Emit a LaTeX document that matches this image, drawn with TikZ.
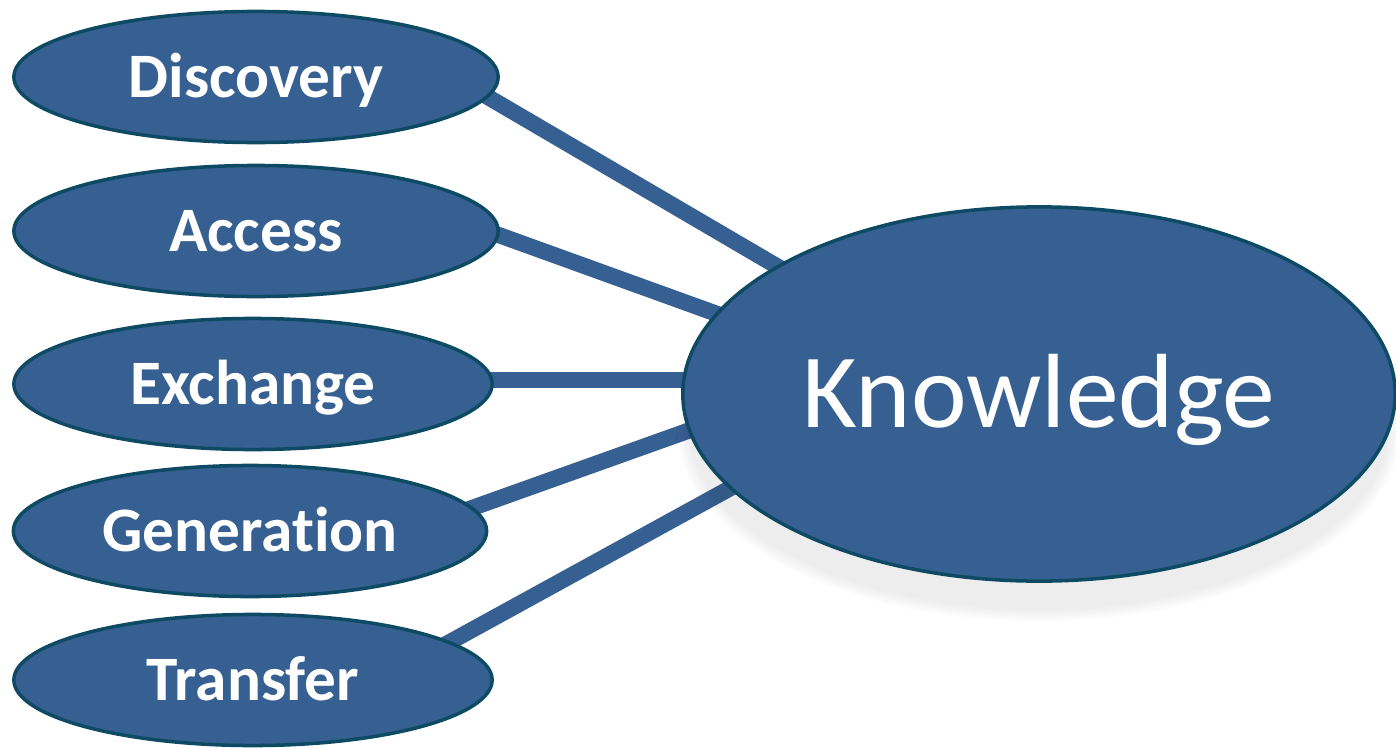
\documentclass[tikz,border=0pt]{standalone}
\usepackage{fontspec}
\setmainfont{Carlito}[Ligatures=NoCommon]
\usetikzlibrary{shapes.geometric,backgrounds,shadows.blur}
\definecolor{topicblue}{RGB}{55,96,146}
\definecolor{topicedge}{RGB}{14,74,100}
\tikzset{
  topic/.style={ellipse,draw=topicedge,fill=topicblue,line width=1pt,inner sep=0pt,
    text=white,font=\fontsize{18}{20}\selectfont\bfseries,
    text height=16pt,text depth=4.4pt,minimum width=4.84cm,minimum height=1.31cm},
  link/.style={topicblue,line width=4.6pt,shorten <=-8pt,shorten >=-8pt}
}
\begin{document}
\begin{tikzpicture}[x=0.01cm,y=-0.01cm]
	\useasboundingbox (0,0) rectangle (1396,748);
	\node[topic] (disc) at (256,77) {Discovery};
	\node[topic] (acc) at (256,231) {Access};
	\node[topic,minimum width=4.78cm] (exch) at (253,384) {Exchange};
	\node[topic,minimum width=4.73cm] (gen) at (250,531) {Generation};
	\node[topic,minimum width=4.78cm] (trans) at (253,680) {Transfer};
	\node[topic,font=\fontsize{30}{34}\selectfont,text height=26pt,text depth=6.7pt,
	  minimum width=7.12cm,minimum height=3.74cm,
	  blur shadow={shadow xshift=0pt,shadow yshift=-10pt,shadow opacity=7,shadow blur steps=12}] (know) at (1039,394) {Knowledge};
	\begin{scope}[on background layer]
	\draw[link] (disc.-5) -- (know.154);
	\draw[link] (acc.-1) -- (know.166);
	\draw[link] (exch.1) -- (exch.1 -| know.west);
	\draw[link] (gen.6) -- (know.186);
	\draw[link] (trans.11) -- (know.197);
	\end{scope}
	%\draw (know.south) node[below] {};
\end{tikzpicture}
\end{document}
